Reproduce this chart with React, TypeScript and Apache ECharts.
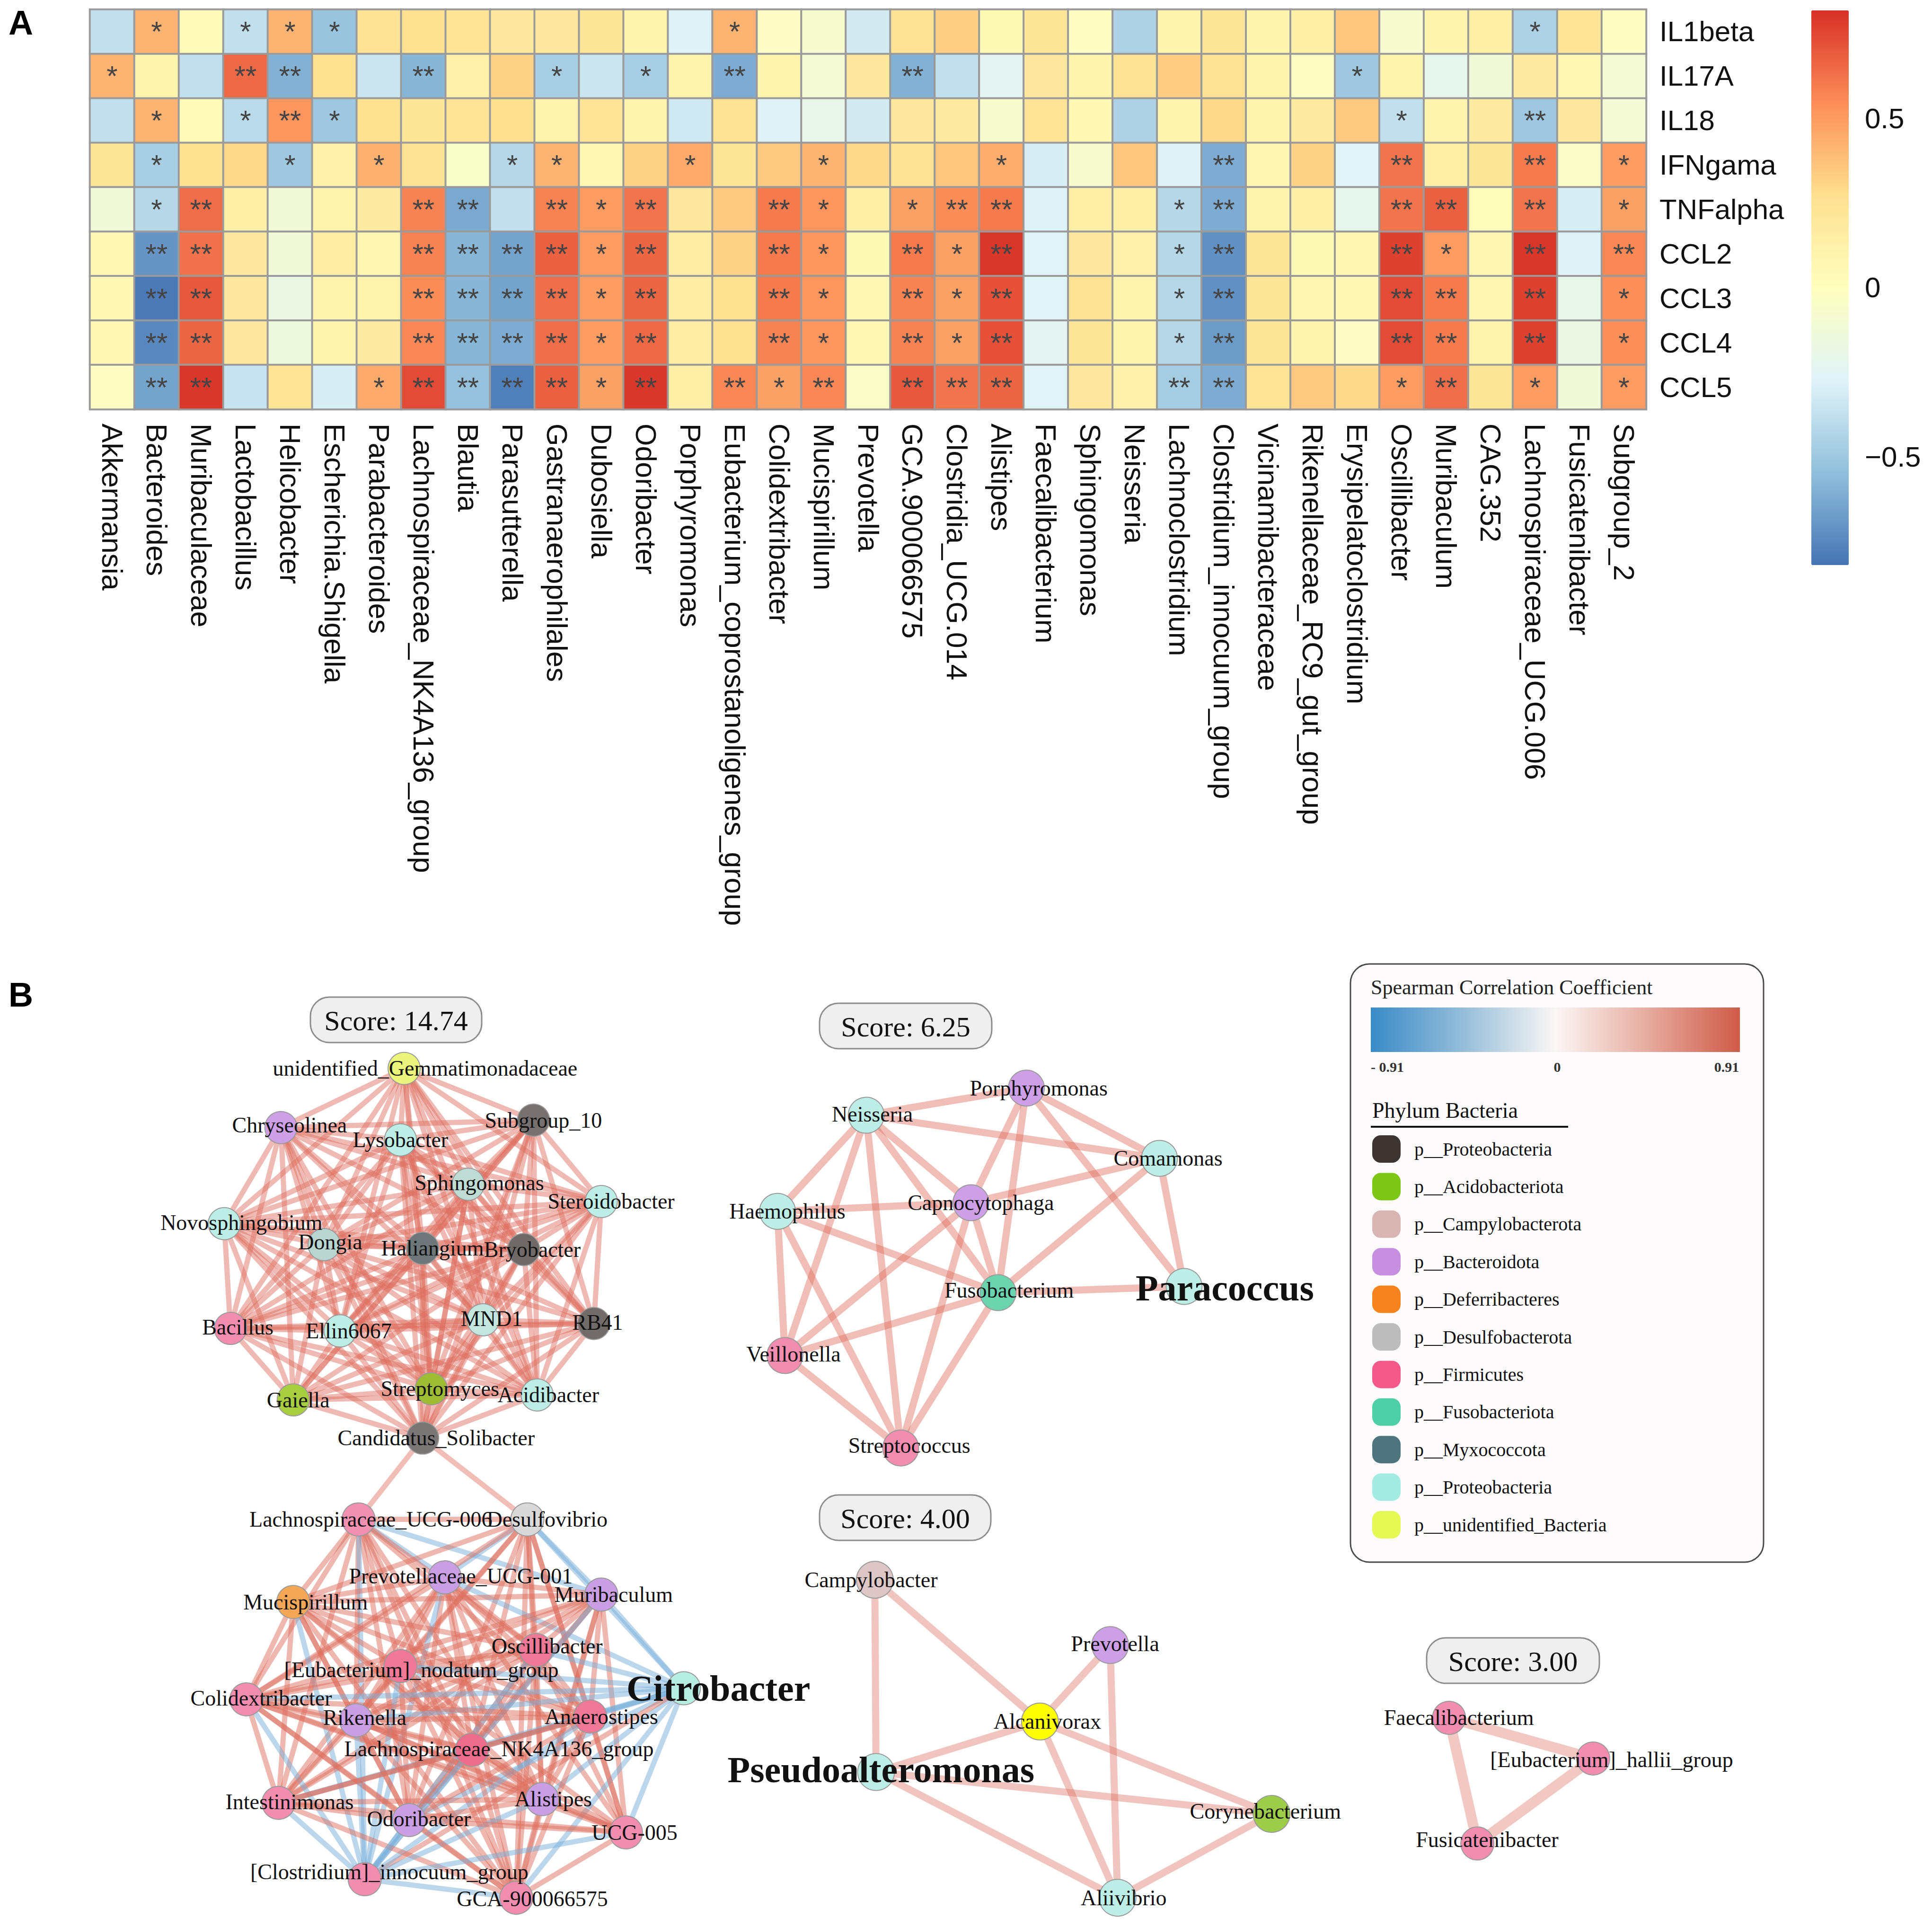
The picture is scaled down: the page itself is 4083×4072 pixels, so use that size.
import React, { useEffect, useRef } from "react";
import * as echarts from "echarts";

// ================= Panel A data =================
const CYTOKINES = ["IL1beta", "IL17A", "IL18", "IFNgama", "TNFalpha", "CCL2", "CCL3", "CCL4", "CCL5"];
const GENERA = [
  "Akkermansia", "Bacteroides", "Muribaculaceae", "Lactobacillus", "Helicobacter", "Escherichia.Shigella",
  "Parabacteroides", "Lachnospiraceae_NK4A136_group", "Blautia", "Parasutterella", "Gastranaerophilales",
  "Dubosiella", "Odoribacter", "Porphyromonas", "Eubacterium_coprostanoligenes_group", "Colidextribacter",
  "Mucispirillum", "Prevotella", "GCA.900066575", "Clostridia_UCG.014", "Alistipes", "Faecalibacterium",
  "Sphingomonas", "Neisseria", "Lachnoclostridium", "Clostridium_innocuum_group", "Vicinamibacteraceae",
  "Rikenellaceae_RC9_gut_group", "Erysipelatoclostridium", "Oscillibacter", "Muribaculum", "CAG.352",
  "Lachnospiraceae_UCG.006", "Fusicatenibacter", "Subgroup_2",
];

const V_IL1BETA = [-0.38, 0.42, 0.03, -0.38, 0.42, -0.52, 0.25, 0.26, 0.24, 0.2, 0.2, 0.22, 0.1, -0.28, 0.42, -0.03, -0.08, -0.32, 0.25, 0.33, 0.05, 0.22, -0.02, -0.45, 0.1, 0.22, 0.1, 0.14, 0.36, -0.08, 0.1, 0.14, -0.45, 0.24, -0.02];
const V_IL17A = [0.42, 0.1, -0.38, 0.65, -0.6, 0.26, -0.35, -0.58, 0.12, 0.32, -0.47, -0.35, -0.47, 0.1, -0.62, 0.1, -0.1, 0.2, -0.6, -0.38, -0.25, 0.2, 0.1, 0.25, 0.34, 0.25, 0.1, -0.02, -0.5, 0.1, -0.22, -0.12, 0.18, 0.06, -0.1];
const V_IL18 = [-0.38, 0.42, 0.04, -0.4, 0.52, -0.5, 0.26, 0.22, 0.24, 0.27, 0.1, 0.24, 0.1, -0.33, 0.25, -0.28, -0.2, -0.32, 0.2, 0.18, -0.06, 0.24, 0.06, -0.45, 0.1, 0.3, 0.1, 0.18, 0.35, -0.38, 0.1, 0.18, -0.5, 0.2, -0.1];
const V_IFNGAMA = [0.22, -0.47, 0.26, 0.3, -0.5, 0.12, 0.43, 0.25, -0.05, -0.42, 0.42, 0.06, 0.32, 0.45, 0.22, 0.35, 0.42, 0.3, 0.25, 0.36, 0.44, -0.3, -0.06, 0.36, -0.28, -0.62, 0.08, 0.32, -0.27, 0.62, 0.14, 0.22, 0.6, -0.04, 0.5];
const V_TNFALPHA = [-0.12, -0.42, 0.64, 0.14, -0.12, 0.1, 0.18, 0.58, -0.63, -0.38, 0.58, 0.5, 0.62, 0.2, 0.35, 0.6, 0.52, 0.14, 0.48, 0.55, 0.6, -0.28, 0.14, 0.14, -0.42, -0.62, 0.1, 0.14, -0.22, 0.62, 0.68, 0.02, 0.62, -0.3, 0.48];
const V_CCL2 = [0.06, -0.7, 0.63, 0.2, -0.12, 0.16, 0.08, 0.58, -0.58, -0.65, 0.68, 0.5, 0.66, 0.16, 0.32, 0.6, 0.52, 0.05, 0.6, 0.48, 0.8, -0.27, 0.2, 0.12, -0.42, -0.72, 0.22, 0.05, 0.08, 0.77, 0.5, 0.08, 0.8, -0.28, 0.56];
const V_CCL3 = [0.06, -0.8, 0.7, 0.2, -0.18, 0.1, 0.1, 0.55, -0.58, -0.65, 0.64, 0.5, 0.66, 0.16, 0.26, 0.6, 0.52, 0.07, 0.58, 0.48, 0.72, -0.27, 0.25, 0.1, -0.42, -0.72, 0.22, 0.08, 0.07, 0.74, 0.6, 0.08, 0.77, -0.2, 0.54];
const V_CCL4 = [0.06, -0.75, 0.66, 0.2, -0.15, 0.1, 0.18, 0.56, -0.58, -0.62, 0.64, 0.5, 0.65, 0.16, 0.26, 0.58, 0.52, 0.07, 0.58, 0.48, 0.72, -0.25, 0.22, 0.1, -0.42, -0.68, 0.22, 0.1, -0.03, 0.74, 0.6, 0.1, 0.77, -0.18, 0.54];
const V_CCL5 = [-0.02, -0.65, 0.8, -0.36, 0.24, -0.3, 0.45, 0.74, -0.53, -0.78, 0.68, 0.48, 0.8, 0.14, 0.56, 0.48, 0.56, -0.04, 0.7, 0.62, 0.66, -0.27, 0.2, 0.12, -0.48, -0.62, 0.24, 0.35, 0.3, 0.5, 0.64, 0.22, 0.5, -0.12, 0.5];

// significance per column: "." none, "1" = *, "2" = **
const S_IL1BETA = ".1.111...." + "....1....." + ".........." + "..1..";
const S_IL17A = "1..22..2.." + "1.1.2...2." + "........1." + ".....";
const S_IL18 = ".1.121...." + ".........." + ".........1" + "..2..";
const S_IFNGAMA = ".1..1.1..1" + "1..1..1..." + "1....2...2" + "..2.1";
const S_TNFALPHA = ".12....22." + "212..21.12" + "2...12...2" + "2.2.1";
const S_CCL2 = ".22....222" + "212..21.21" + "2...12...2" + "1.2.2";
const S_CCL3 = ".22....222" + "212..21.21" + "2...12...2" + "2.2.1";
const S_CCL4 = ".22....222" + "212..21.21" + "2...12...2" + "2.2.1";
const S_CCL5 = ".22...1222" + "212.212.22" + "2...22...1" + "2.1.1";

const SCALE_MIN = -0.82;
const SCALE_MAX = 0.82;
const SCALE_TICKS = [-0.5, 0, 0.5];

// ================= Panel B data =================
// layout units (figure layout coordinates of each node)
const C1_NAMES = ["unidentified_Gemmatimonadaceae", "Chryseolinea", "Lysobacter", "Subgroup_10", "Sphingomonas", "Steroidobacter", "Novosphingobium", "Dongia", "Haliangium", "Bryobacter", "Bacillus", "Ellin6067", "MND1", "RB41", "Gaiella", "Streptomyces", "Acidibacter", "Candidatus_Solibacter"];
const C1_X = [328, 228, 325, 433, 380, 488, 182, 263, 343, 425, 187, 276, 392, 482, 238, 350, 436, 343];
const C1_Y = [867, 915, 925, 909, 961, 975, 993, 1010, 1013, 1014, 1078, 1080, 1071, 1074, 1136, 1127, 1132, 1167];
// upper-triangular adjacency (row i lists nodes j > i)
const C1_ADJ = [
  "11111111111110110",
  "1111111111101101",
  "111111111110111",
  "11111101111111",
  "1111111110111",
  "111111110111",
  "11111101111",
  "1111111111",
  "111111111",
  "11111111",
  "1111111",
  "111111",
  "11111",
  "1111",
  "111",
  "11",
  "1",
];

const C2_NAMES = ["Lachnospiraceae_UCG-006", "Desulfovibrio", "Prevotellaceae_UCG-001", "Mucispirillum", "Muribaculum", "Oscillibacter", "[Eubacterium]_nodatum_group", "Citrobacter", "Colidextribacter", "Rikenella", "Anaerostipes", "Lachnospiraceae_NK4A136_group", "Intestinimonas", "Alistipes", "Odoribacter", "UCG-005", "[Clostridium]_innocuum_group", "GCA-900066575"];
const C2_X = [291, 428, 361, 238, 488, 435, 325, 555, 200, 289, 479, 383, 226, 440, 332, 508, 296, 419];
const C2_Y = [1233, 1233, 1280, 1300, 1294, 1339, 1352, 1370, 1379, 1396, 1393, 1420, 1463, 1460, 1477, 1487, 1525, 1540];
// "+" positive, "-" negative, "." none (row i lists nodes j > i)
const C2_ADJ = [
  "+-+-++.+++++++.-+",
  "-+-++-++++.+++.+",
  "++++-++++++++-+",
  "+++.+++++++.-+",
  "++-++++++++-+",
  "+-++++++++-+",
  "-++++++++-+",
  "--------+-",
  "+++++++-+",
  "++++++-+",
  "+++++-+",
  "++++-+",
  "+++-+",
  "++-+",
  "+-+",
  "-+",
  "-",
];
const BRIDGE_EDGES = [["Candidatus_Solibacter", "Lachnospiraceae_UCG-006"], ["Candidatus_Solibacter", "Desulfovibrio"]];

const N2_NAMES = ["Porphyromonas", "Neisseria", "Comamonas", "Capnocytophaga", "Haemophilus", "Fusobacterium", "Paracoccus", "Veillonella", "Streptococcus"];
const N2_X = [833, 703, 941, 788, 631, 810, 961, 637, 731];
const N2_Y = [883, 905, 940, 976, 983, 1049, 1044, 1100, 1175];
const N2_EDGES = "1-0 1-2 1-4 1-3 1-5 1-7 1-8 0-2 0-3 0-5 0-6 2-3 2-5 2-6 3-4 3-5 3-7 3-8 4-5 4-7 4-8 5-6 5-7 5-8 7-8";

const N3_NAMES = ["Campylobacter", "Prevotella", "Alcanivorax", "Pseudoalteromonas", "Corynebacterium", "Aliivibrio"];
const N3_X = [710, 901, 844, 711, 1032, 907];
const N3_Y = [1282, 1335, 1397, 1438, 1472, 1540];
const N3_EDGES = "0-3 0-2 1-2 1-5 2-3 2-4 2-5 3-4 3-5 4-5";

const N4_NAMES = ["Faecalibacterium", "[Eubacterium]_hallii_group", "Fusicatenibacter"];
const N4_X = [1176, 1293, 1199];
const N4_Y = [1394, 1427, 1496];
const N4_EDGES = "0-1 0-2 1-2";

const SCORES = ["Score: 14.74", "Score: 6.25", "Score: 4.00", "Score: 3.00"];
const HUB_NODES = ["Citrobacter", "Paracoccus", "Pseudoalteromonas"];

const PHYLA = ["p__Proteobacteria", "p__Acidobacteriota", "p__Campylobacterota", "p__Bacteroidota", "p__Deferribacteres", "p__Desulfobacterota", "p__Firmicutes", "p__Fusobacteriota", "p__Myxococcota", "p__Proteobacteria", "p__unidentified_Bacteria"];
const CORR_LABELS = ["- 0.91", "0", "0.91"];

// ================= Styles =================
const RDYLBU = ["#4575B4", "#91BFDB", "#E0F3F8", "#FFFFBF", "#FEE090", "#FC8D59", "#D73027"];
const PHYLA_COLORS = ["#3b3431", "#7cc614", "#d8b4b2", "#c68fe0", "#f5841f", "#bcbcbc", "#f4598a", "#4fcfa5", "#4e757e", "#a4ece1", "#e4f953"];
const C1_FILL = ["#e9f57b", "#cd9fe6", "#bdeee6", "#76716f", "#bfdcd4", "#bdeee6", "#bdeee6", "#b8d6cf", "#6d7678", "#6f6a68", "#f28db0", "#bdeee6", "#c3e7df", "#716c6a", "#a8cd3e", "#9fba33", "#bdeee6", "#7a7675"];
const C1_LDX = [17, 7, 0, 8, 9, 8, 14, 5, 8, 7, 6, 7, 7, 3, 4, 7, 9, 11];
const C1_LDY = [0, -2, 0, 0, -1, 0, -1, -2, 0, 0, -1, 0, -1, -1, 0, 0, 0, 0];
const C2_FILL = ["#f190b0", "#d9d9d9", "#c99ee2", "#f3a655", "#c99ee2", "#ef7896", "#ef7896", "#b6eee2", "#f28db0", "#c99ee2", "#ef7896", "#ee6d8d", "#f28db0", "#c99ee2", "#c99ee2", "#f28db0", "#f28db0", "#f28db0"];
const C2_LDX = [10, 16, 13, 10, 10, 9, 17, 28, 12, 7, 9, 22, 9, 9, 8, 7, 20, 13];
const C2_LDY = [0, 0, -1, 0, 0, -3, 3, 0, -1, -2, 0, -1, -1, 0, -1, 0, -6, 1];
const N2_FILL = ["#cd9fe6", "#bdeee6", "#bdeee6", "#cd9fe6", "#bdeee6", "#6bd3ae", "#bdeee6", "#f28db0", "#f28db0"];
const N2_LDX = [10, 5, 7, 8, 8, 9, 33, 7, 7];
const N2_LDY = [0, -1, 0, 0, 0, -2, 1, -1, -2];
const N3_FILL = ["#dcc6c6", "#cd9fe6", "#ffff00", "#bdeee6", "#9ccc48", "#bdeee6"];
const N3_LDX = [-3, 4, 6, 4, -5, 5];
const N3_LDY = [0, -1, 0, -2, -2, 0];
const N4_FILL = ["#f28db0", "#f28db0", "#f28db0"];
const N4_LDX = [8, 15, 8];
const N4_LDY = [0, 1, -3];
const SCORE_BOXES = [
  [656, 2107, 362, 96],
  [1732, 2120, 364, 96],
  [1732, 3159, 362, 96],
  [3015, 3461, 365, 96],
];

const U = 2.604; // px per layout unit
const SERIF = "Liberation Serif";
const SANS = "Liberation Sans";
const RED = "#dd6f60";
const BLUE = "#7ab0da";

function buildOption() {
  const rows = [V_IL1BETA, V_IL17A, V_IL18, V_IFNGAMA, V_TNFALPHA, V_CCL2, V_CCL3, V_CCL4, V_CCL5];
  const sigs = [S_IL1BETA, S_IL17A, S_IL18, S_IFNGAMA, S_TNFALPHA, S_CCL2, S_CCL3, S_CCL4, S_CCL5];
  const heat: any[] = [];
  rows.forEach((row, r) => row.forEach((v, c) => heat.push([c, r, v])));
  const sigText = (c: number, r: number) => {
    const ch = sigs[r][c];
    return ch === "1" ? "*" : ch === "2" ? "**" : "";
  };

  // ---- network nodes & links ----
  const nodes: any[] = [];
  const links: any[] = [];
  const idx: Record<string, number> = {};
  const addGroup = (names: string[], xs: number[], ys: number[], fills: string[], ldx: number[], ldy: number[], size: number) => {
    const base = nodes.length;
    names.forEach((n, i) => {
      const hub = HUB_NODES.includes(n);
      idx[n] = nodes.length;
      nodes.push({
        id: String(nodes.length),
        name: n,
        value: [xs[i], ys[i]],
        symbolSize: size,
        itemStyle: { color: fills[i] },
        label: {
          offset: [ldx[i] * U, ldy[i] * U],
          fontSize: hub ? 78 : 46,
          fontWeight: hub ? "bold" : "normal",
        },
      });
    });
    return base;
  };
  const link = (a: number, b: number, color: string, width: number, opacity: number) =>
    links.push({ source: String(a), target: String(b), lineStyle: { color, width, opacity } });

  const b1 = addGroup(C1_NAMES, C1_X, C1_Y, C1_FILL, C1_LDX, C1_LDY, 68);
  C1_ADJ.forEach((row, i) => row.split("").forEach((ch, k) => { if (ch === "1") link(b1 + i, b1 + i + 1 + k, RED, 11, 0.48); }));
  const b2 = addGroup(C2_NAMES, C2_X, C2_Y, C2_FILL, C2_LDX, C2_LDY, 70);
  C2_ADJ.forEach((row, i) => row.split("").forEach((ch, k) => {
    if (ch === "+") link(b2 + i, b2 + i + 1 + k, RED, 11, 0.5);
    if (ch === "-") link(b2 + i, b2 + i + 1 + k, BLUE, 11, 0.5);
  }));
  BRIDGE_EDGES.forEach(([a, b]) => link(idx[a], idx[b], RED, 11, 0.45));
  const parse = (s: string) => s.split(" ").map((p) => p.split("-").map(Number));
  const b3 = addGroup(N2_NAMES, N2_X, N2_Y, N2_FILL, N2_LDX, N2_LDY, 76);
  parse(N2_EDGES).forEach(([a, b]) => link(b3 + a, b3 + b, RED, 15, 0.45));
  const b4 = addGroup(N3_NAMES, N3_X, N3_Y, N3_FILL, N3_LDX, N3_LDY, 78);
  parse(N3_EDGES).forEach(([a, b]) => link(b4 + a, b4 + b, RED, 15, 0.4));
  const b5 = addGroup(N4_NAMES, N4_X, N4_Y, N4_FILL, N4_LDX, N4_LDY, 70);
  parse(N4_EDGES).forEach(([a, b]) => link(b5 + a, b5 + b, RED, 22, 0.38));

  // ---- graphics ----
  const g: any[] = [];
  g.push({ type: "text", x: 18, y: 48, style: { text: "A", fontSize: 72, fontWeight: "bold", fontFamily: SANS, fill: "#000", verticalAlign: "middle" } });
  g.push({ type: "text", x: 18, y: 2102, style: { text: "B", fontSize: 72, fontWeight: "bold", fontFamily: SANS, fill: "#000", verticalAlign: "middle" } });
  SCORE_BOXES.forEach(([x, y, w, h], i) => {
    g.push({ type: "rect", shape: { x, y, width: w, height: h, r: 40 }, style: { fill: "#efefef", stroke: "#8c8c8c", lineWidth: 3 }, z: 10 });
    g.push({ type: "text", x: x + w / 2, y: y + h / 2 + 2, style: { text: SCORES[i], fontSize: 60, fontFamily: SERIF, fill: "#111", align: "center", verticalAlign: "middle" }, z: 11 });
  });
  // legend box
  g.push({ type: "rect", shape: { x: 2854, y: 2037, width: 873, height: 1264, r: 40 }, style: { fill: "#fcfafb", stroke: "#4a4a4a", lineWidth: 3 }, z: 10 });
  g.push({ type: "text", x: 2897, y: 2086, style: { text: "Spearman Correlation Coefficient", fontSize: 44, fontFamily: SERIF, fill: "#222", verticalAlign: "middle" }, z: 11 });
  g.push({
    type: "rect", shape: { x: 2897, y: 2129, width: 780, height: 94 }, z: 11,
    style: {
      fill: new echarts.graphic.LinearGradient(0, 0, 1, 0, [
        { offset: 0, color: "#3a8bc7" }, { offset: 0.25, color: "#95bdd9" }, { offset: 0.5, color: "#fbf7f5" },
        { offset: 0.75, color: "#e6ab9f" }, { offset: 1, color: "#cf5b48" },
      ]),
    },
  });
  [2932, 3291, 3649].forEach((x, i) => g.push({ type: "text", x, y: 2254, style: { text: CORR_LABELS[i], fontSize: 30, fontWeight: "bold", fontFamily: SERIF, fill: "#333", align: "center", verticalAlign: "middle" }, z: 11 }));
  g.push({ type: "text", x: 2900, y: 2346, style: { text: "Phylum Bacteria", fontSize: 46, fontFamily: SERIF, fill: "#111", verticalAlign: "middle" }, z: 11 });
  g.push({ type: "line", shape: { x1: 2897, y1: 2381, x2: 3314, y2: 2381 }, style: { stroke: "#111", lineWidth: 4 }, z: 11 });
  PHYLA.forEach((p, i) => {
    const yc = 2428 + 79.4 * i;
    g.push({ type: "rect", shape: { x: 2900, y: yc - 29, width: 60, height: 58, r: 18 }, style: { fill: PHYLA_COLORS[i] }, z: 11 });
    g.push({ type: "text", x: 2989, y: yc, style: { text: p, fontSize: 40, fontFamily: SERIF, fill: "#111", verticalAlign: "middle" }, z: 11 });
  });

  const fmtTick = (v: number) =>
    SCALE_TICKS.some((t) => Math.abs(t - v) < 1e-9) ? String(v).replace("-", "\u2212") : "";

  return {
    animation: false,
    backgroundColor: "#ffffff",
    textStyle: { fontFamily: SANS },
    grid: [
      { left: 190, top: 20, width: 3289, height: 845 },
      { left: 0, top: 780 * U, width: 1568 * U, height: (1563 - 780) * U },
      { left: 3828, top: 0, width: 79, height: 607.7 + 714.6 },
    ],
    xAxis: [
      {
        type: "category", gridIndex: 0, data: GENERA, position: "bottom",
        axisLine: { show: false }, axisTick: { show: false }, splitLine: { show: false },
        axisLabel: { interval: 0, rotate: -90, fontSize: 61, color: "#111", margin: 30, fontFamily: SANS },
      },
      { type: "value", gridIndex: 1, min: 0, max: 1568, show: false },
      { type: "value", gridIndex: 2, show: false },
    ],
    yAxis: [
      {
        type: "category", gridIndex: 0, data: CYTOKINES, inverse: true, position: "right",
        axisLine: { show: false }, axisTick: { show: false }, splitLine: { show: false },
        axisLabel: { interval: 0, fontSize: 60, color: "#111", margin: 28, fontFamily: SANS },
      },
      { type: "value", gridIndex: 1, min: 780, max: 1563, inverse: true, show: false },
      {
        type: "value", gridIndex: 2, min: -1, max: 607.7 / 714.6, interval: 0.5, position: "right",
        axisLine: { show: false }, axisTick: { show: false }, splitLine: { show: false },
        axisLabel: { fontSize: 60, color: "#111", margin: 34, fontFamily: SANS, formatter: fmtTick },
      },
    ],
    visualMap: {
      type: "continuous", min: SCALE_MIN, max: SCALE_MAX, seriesIndex: 0, dimension: 2,
      inRange: { color: RDYLBU }, orient: "vertical", left: 3828, top: 22, padding: 0,
      itemWidth: 79, itemHeight: 1172, calculable: false, text: null, hoverLink: false,
    },
    series: [
      {
        type: "heatmap", xAxisIndex: 0, yAxisIndex: 0, data: heat,
        itemStyle: { borderColor: "#9a9a9a", borderWidth: 4 },
        label: {
          show: true, fontSize: 60, color: "#444", fontFamily: SANS,
          formatter: (p: any) => sigText(p.data[0], p.data[1]),
        },
        emphasis: { disabled: true }, silent: true,
      },
      {
        type: "graph", coordinateSystem: "cartesian2d", xAxisIndex: 1, yAxisIndex: 1,
        layout: "none", data: nodes, links, silent: true,
        label: { show: true, position: "inside", fontFamily: SERIF, fontSize: 46, color: "#111" },
        itemStyle: { borderColor: "#9a9a9a", borderWidth: 2 },
        emphasis: { disabled: true },
      },
    ],
    graphic: g,
  };
}

export default function App() {
  const ref = useRef<HTMLDivElement>(null);
  useEffect(() => {
    const chart = echarts.init(ref.current as HTMLDivElement, null, { renderer: "svg" });
    chart.setOption(buildOption() as any);
    return () => chart.dispose();
  }, []);
  return (
    <div
      ref={ref}
      style={{ position: "absolute", left: 0, top: 0, width: 4083, height: 4072, background: "#fff" }}
    />
  );
}
